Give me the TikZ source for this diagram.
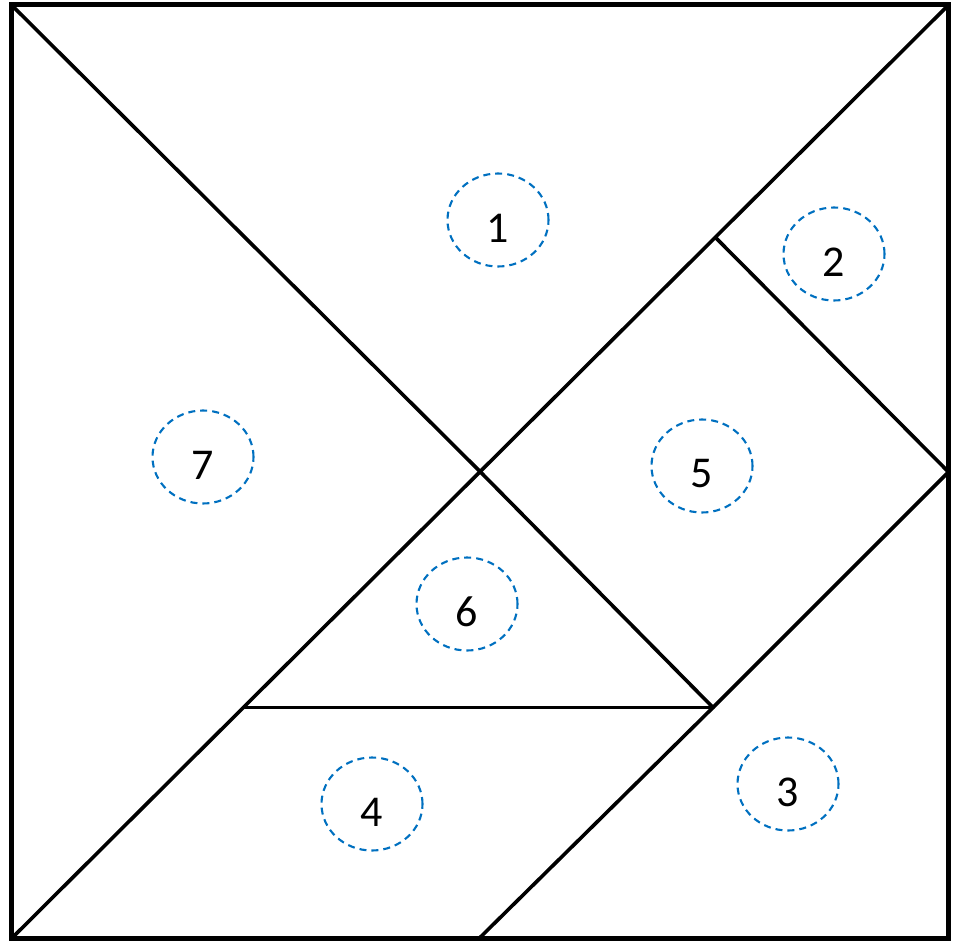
\documentclass[tikz,border=0pt]{standalone}
\usepackage{fontspec}
\setmainfont{Carlito}
\definecolor{dashblue}{RGB}{0,112,192}
\begin{document}
\begin{tikzpicture}[x=1pt,y=-1pt,
  edge/.style={line width=3.6pt, line cap=round, line join=round},
  frame/.style={line width=5pt, line join=miter},
  ring/.style={draw=dashblue, line width=2.1pt, dash pattern=on 7pt off 5pt},
  num/.style={font=\fontsize{44}{44}\selectfont, inner sep=0pt}]
\useasboundingbox (0,0) rectangle (955,944);
\coordinate (TL) at (11.5,5);
\coordinate (TR) at (948.5,5);
\coordinate (BR) at (948.5,938.5);
\coordinate (BL) at (11.5,938.5);
\coordinate (C) at (480,471.5);
\coordinate (RM) at (948.5,472);
\coordinate (P) at (716.5,238.5);
\coordinate (Q) at (713,707.5);
\coordinate (S) at (245,707.5);
\coordinate (B) at (479,938.5);
% pieces
\draw[edge] (TL) -- (C) -- (Q);
\draw[edge] (BL) -- (TR);
\draw[edge] (P) -- (RM);
\draw[edge] (RM) -- (Q) -- (B);
\draw[edge] (S) -- (Q);
\draw[frame] (TL) rectangle (BR);
% labels
\foreach \n/\cx/\cy in {1/498/220, 2/834/254, 3/788/784, 4/372/804, 5/702/466, 6/467/604, 7/203/457}{
  \draw[ring] (\cx,\cy) ellipse [x radius=50.5pt, y radius=46.5pt];
  \node[num] (n\n) at (\cx,\cy+8) {\n};
}
\end{tikzpicture}
\end{document}
